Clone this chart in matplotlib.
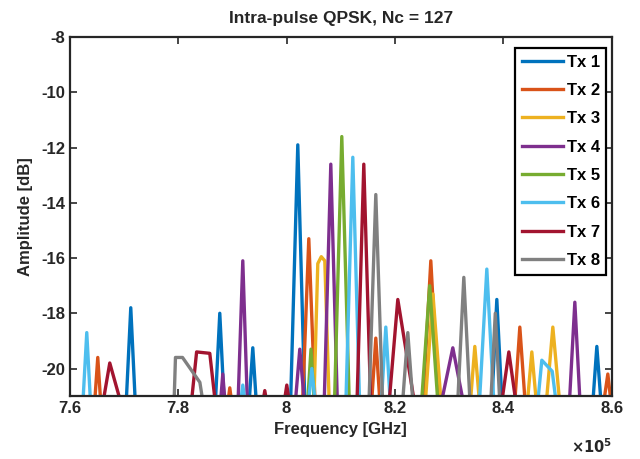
import matplotlib
matplotlib.use("Agg")
import matplotlib.pyplot as plt
from matplotlib.ticker import FuncFormatter

plt.rcParams["font.family"] = ["Liberation Sans", "DejaVu Sans"]
plt.rcParams["font.weight"] = "bold"
plt.rcParams["axes.unicode_minus"] = False

# spectrum vertices per transmitter (frequency, amplitude dB); floor is below the y-limit
tx1_x = [760000, 770350, 771255, 772150, 786800, 787675, 788550, 793000, 793764, 794500,
         800700, 802066, 803400, 837800, 838782, 839800, 856400, 857232, 858100, 860000]
tx1_y = [-21.5, -21.5, -17.8, -21.5, -21.5, -18.0, -21.5, -21.5, -19.25, -21.5,
         -21.5, -11.9, -21.5, -21.5, -17.5, -21.5, -21.5, -19.2, -21.5, -21.5]

tx2_x = [760000, 764500, 765166, 765800, 789000, 789520, 790050, 802900, 804096, 805300,
         815600, 816457, 817300, 825100, 826605, 828100, 842000, 843025, 844100, 858300,
         859261, 860000]
tx2_y = [-21.5, -21.5, -19.6, -21.5, -21.5, -20.7, -21.5, -21.5, -15.3, -21.5,
         -21.5, -18.9, -21.5, -21.5, -16.1, -21.5, -21.5, -18.5, -21.5, -21.5,
         -20.2, -21.5]

tx3_x = [760000, 805000, 805756, 806400, 807048, 807900, 825500, 827000, 828600, 833800,
         834723, 835700, 844300, 845239, 846200, 847800, 849114, 850500, 860000]
tx3_y = [-21.5, -21.5, -16.2, -15.95, -16.1, -21.5, -21.5, -17.3, -21.5, -21.5,
         -19.2, -21.5, -21.5, -19.4, -21.5, -21.5, -18.5, -21.5, -21.5]

tx4_x = [760000, 787700, 788229, 788750, 791000, 791919, 792800, 801500, 802435, 803400,
         806900, 808155, 809400, 828265, 830664, 832878, 852100, 853173, 854200, 860000]
tx4_y = [-21.5, -21.5, -20.2, -21.5, -21.5, -16.1, -21.5, -21.5, -19.3, -21.5,
         -21.5, -12.6, -21.5, -21.5, -19.25, -21.5, -21.5, -17.6, -21.5, -21.5]

tx5_x = [760000, 803800, 804500, 805200, 808800, 810184, 811600, 824800, 826400, 828000,
         860000]
tx5_y = [-21.5, -21.5, -19.3, -21.5, -21.5, -11.6, -21.5, -21.5, -17.0, -21.5,
         -21.5]

tx6_x = [760000, 762350, 763137, 763900, 791350, 791919, 792500, 803900, 804649, 805400,
         810900, 812214, 813500, 817400, 818302, 819200, 835500, 836937, 838300, 846200,
         847084, 849000, 849900, 860000]
tx6_y = [-21.5, -21.5, -18.7, -21.5, -21.5, -20.6, -21.5, -21.5, -20.0, -21.5,
         -21.5, -12.35, -21.5, -21.5, -18.5, -21.5, -21.5, -16.4, -21.5, -21.5,
         -19.7, -20.1, -21.5, -21.5]

tx7_x = [760000, 765900, 767380, 769800, 782300, 783400, 785830, 787000, 795400, 795978,
         796550, 799350, 800037, 800700, 812950, 814243, 815550, 818800, 820516, 823800,
         839500, 841000, 842500, 860000]
tx7_y = [-21.5, -21.5, -19.8, -21.5, -21.5, -19.4, -19.45, -21.5, -21.5, -20.8,
         -21.5, -21.5, -20.6, -21.5, -21.5, -12.6, -21.5, -21.5, -17.5, -21.5,
         -21.5, -19.4, -21.5, -21.5]

tx8_x = [760000, 779200, 779500, 780800, 784000, 784800, 815150, 816457, 817750, 821300,
         822361, 823400, 831500, 832693, 833900, 837600, 838500, 839400, 860000]
tx8_y = [-21.5, -21.5, -19.6, -19.6, -20.5, -21.5, -21.5, -13.7, -21.5, -21.5,
         -18.7, -21.5, -21.5, -16.7, -21.5, -21.5, -18.0, -21.5, -21.5]

labels = ["Tx 1", "Tx 2", "Tx 3", "Tx 4", "Tx 5", "Tx 6", "Tx 7", "Tx 8"]
colors = ["#0072BD", "#D95319", "#EDB120", "#7E2F8E", "#77AC30", "#4DBEEE", "#A2142F", "#808080"]
series = [(tx1_x, tx1_y), (tx2_x, tx2_y), (tx3_x, tx3_y), (tx4_x, tx4_y),
          (tx5_x, tx5_y), (tx6_x, tx6_y), (tx7_x, tx7_y), (tx8_x, tx8_y)]

fig = plt.figure(figsize=(6.4, 4.59), dpi=100)
ax = fig.add_axes([0.109, 0.137, 0.847, 0.782])

for (xs, ys), lab, col in zip(series, labels, colors):
    ax.plot(xs, ys, color=col, linewidth=2.4, label=lab)

ax.set_xlim(760000, 860000)
ax.set_ylim(-21, -8)
ax.set_xticks([760000, 780000, 800000, 820000, 840000, 860000])
ax.set_yticks([-8, -10, -12, -14, -16, -18, -20])
ax.xaxis.set_major_formatter(FuncFormatter(lambda v, _: f"{v / 1e5:g}"))
ax.tick_params(direction="in", length=5, width=1.2, labelsize=12, top=True, right=True,
               colors="#262626")
for sp in ax.spines.values():
    sp.set_linewidth(1.6)
    sp.set_color("#262626")

ax.set_title("Intra-pulse QPSK, Nc = 127", fontsize=12.5, fontweight="bold", color="#262626", pad=10)
ax.set_xlabel("Frequency [GHz]", fontsize=12, fontweight="bold", color="#262626", labelpad=4)
ax.set_ylabel("Amplitude [dB]", fontsize=12, fontweight="bold", color="#262626", labelpad=6)
ax.text(1.0, -0.14, r"$\times10^5$", transform=ax.transAxes, ha="right", va="center",
        fontsize=10.5, color="#262626")

leg = ax.legend(loc="upper right", fontsize=12, handlelength=2.5, handletextpad=0.2,
                labelspacing=0.8, borderpad=0.4, fancybox=False, framealpha=1,
                bbox_to_anchor=(0.99, 0.97), borderaxespad=0)
leg.get_frame().set_edgecolor("#000000")
leg.get_frame().set_linewidth(1.6)
for t in leg.get_texts():
    t.set_fontweight("bold")

fig.savefig("out.png", dpi=100)
